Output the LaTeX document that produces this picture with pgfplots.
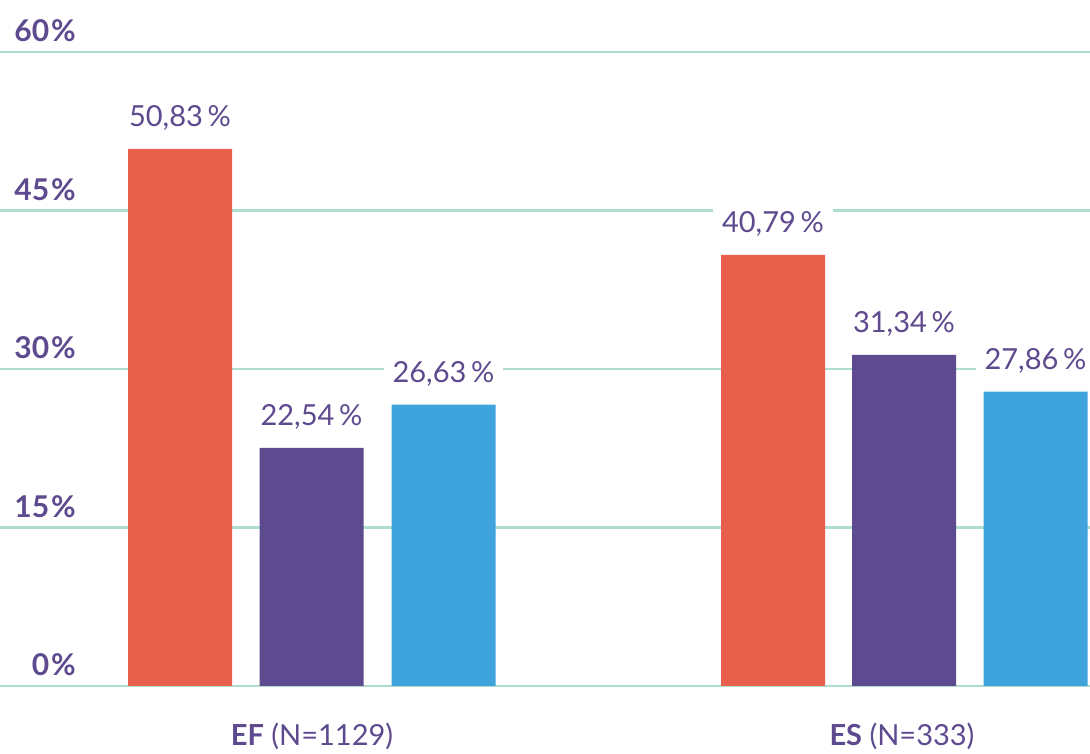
\documentclass[border=0pt]{standalone}
\usepackage{pgfplots}
\pgfplotsset{compat=1.18}
\usepackage{fontspec}
\setmainfont{Lato}
\definecolor{cred}{HTML}{E8604C}
\definecolor{cpurple}{HTML}{5E4A8E}
\definecolor{cblue}{HTML}{3EA4DB}
\definecolor{cgrid}{HTML}{AEDDD0}
\begin{document}
\begin{tikzpicture}
\begin{axis}[
  scale only axis,
  width=1090pt, height=753pt,
  xmin=0, xmax=1090,
  ymin=-6.341, ymax=64.921,
  axis line style={draw=none},
  major tick length=0pt,
  ytick={0,15,30,45,60},
  yticklabels={{\textbf{0\kern2pt\%}},{\textbf{15\kern2pt\%}},{\textbf{30\kern2pt\%}},{\textbf{45\kern2pt\%}},{\textbf{60\kern2pt\%}}},
  yticklabel style={anchor=base east, inner sep=0pt, xshift=76pt, yshift=10pt, font=\fontsize{30}{32}\selectfont, text=cpurple},
  ymajorgrids,
  grid style={cgrid, line width=2.5pt},
  xtick={312,902},
  xticklabels={{\textbf{EF} (N=1129)},{\textbf{ES} (N=333)}},
  xticklabel style={anchor=base, inner sep=0pt, yshift=8pt, font=\fontsize{29}{32}\selectfont, text=cpurple},
  ybar,
  bar width=104,
  nodes near coords={\pgfmathprintnumber[fixed,fixed zerofill,precision=2,use comma,assume math mode=true]{\pgfplotspointmeta}\,\%},
  nodes near coords style={anchor=base, yshift=22pt, fill=white, inner xsep=9pt, inner ysep=7pt, text=cpurple, font=\fontsize{29}{32}\selectfont},
]
\addplot[fill=cred, draw=none, bar shift=0pt] coordinates {(180,50.83) (773,40.79)};
\addplot[fill=cpurple, draw=none, bar shift=0pt] coordinates {(311.5,22.54) (904,31.34)};
\addplot[fill=cblue, draw=none, bar shift=0pt] coordinates {(443.5,26.63) (1035.5,27.86)};
\end{axis}
\pgfresetboundingbox
\path[use as bounding box] (current axis.south west) rectangle (current axis.north east);
\end{tikzpicture}
\end{document}
